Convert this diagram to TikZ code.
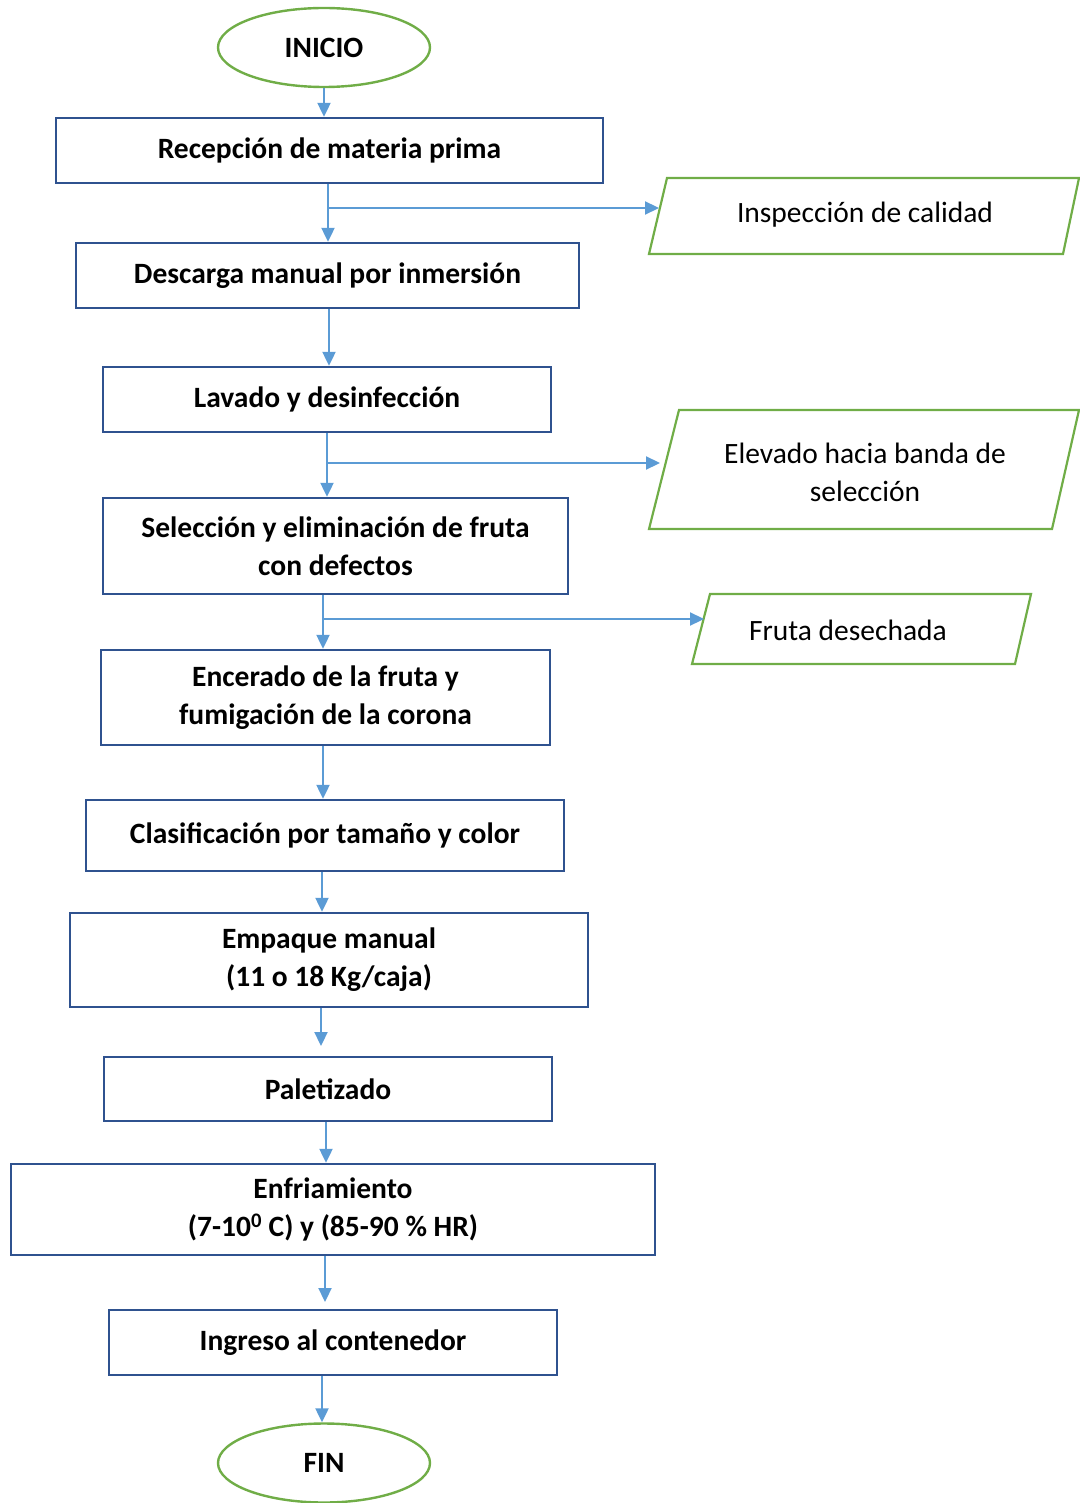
\documentclass[tikz,border=0pt]{standalone}
\usepackage{fontspec}
\setmainfont{Carlito}
\usetikzlibrary{arrows.meta,shapes.geometric}
\definecolor{boxblue}{RGB}{47,82,143}
\definecolor{arrblue}{RGB}{91,155,213}
\definecolor{green}{RGB}{112,173,71}
\tikzset{
  box/.style={draw=boxblue, line width=2.4pt, rectangle, align=center, inner sep=0pt,
    font=\fontsize{29.5}{38}\selectfont\bfseries},
  term/.style={draw=green, line width=2.4pt, ellipse, inner sep=0pt,
    minimum width=212pt, minimum height=79pt, font=\fontsize{29.5}{38}\selectfont\bfseries},
  para/.style={draw=green, line width=2.2pt},
  ptext/.style={align=center, font=\fontsize{29.5}{38}\selectfont},
  arr/.style={draw=arrblue, line width=2.2pt, -{Triangle[length=14pt,width=13pt]}},
}
\begin{document}
\begin{tikzpicture}[x=1pt,y=-1pt]
\useasboundingbox (0,0) rectangle (1079,1503);
% terminals
\node[term] (ini) at (324,47.5) {INICIO};
\node[term] (fin) at (324,1463) {FIN};
% process boxes
\node[box, minimum width=547pt, minimum height=65pt] (r1) at (329.5,150.5) {Recepción de materia prima};
\node[box, minimum width=503pt, minimum height=65pt] (r2) at (327.5,275.5) {Descarga manual por inmersión};
\node[box, minimum width=448pt, minimum height=65pt] (r3) at (327,399.5) {Lavado y desinfección};
\node[box, minimum width=465pt, minimum height=96pt] (r4) at (335.5,546) {Selección y eliminación de fruta\\con defectos};
\node[box, minimum width=449pt, minimum height=95pt] (r5) at (325.5,697.5) {Encerado de la fruta y\\fumigación de la corona};
\node[box, minimum width=478pt, minimum height=71pt] (r6) at (325,835.5) {Clasificación por tamaño y color};
\node[box, minimum width=518pt, minimum height=94pt] (r7) at (329,960) {Empaque manual\\(11 o 18 Kg/caja)};
\node[box, minimum width=448pt, minimum height=64pt] (r8) at (328,1089) {Paletizado};
\node[box, minimum width=644pt, minimum height=91pt] (r9) at (333,1209.5) {Enfriamiento\\(7-10\textsuperscript{0} C) y (85-90 \% HR)};
\node[box, minimum width=448pt, minimum height=65pt] (r10) at (333,1342.5) {Ingreso al contenedor};
% side parallelograms
\draw[para] (667,178) -- (1079,178) -- (1063,254) -- (649,254) -- cycle;
\node[ptext] (p1) at (865,215) {Inspección de calidad};
\draw[para] (679,410) -- (1079,410) -- (1052,529) -- (649,529) -- cycle;
\node[ptext] (p2) at (865,472) {Elevado hacia banda de\\selección};
\draw[para] (710,594) -- (1031,594) -- (1015,664) -- (692,664) -- cycle;
\node[ptext] (p3) at (848,630) {Fruta desechada};
% branch points and side arrow ends
\coordinate (b1) at (328,208);
\coordinate (e1) at (659,208);
\coordinate (b2) at (327,463);
\coordinate (e2) at (660,463);
\coordinate (b3) at (323,619);
\coordinate (e3) at (704,619);
% main flow
\draw[arr] (324,0 |- ini.south) -- (324,0 |- r1.north);
\draw[arr] (328,0 |- r1.south) -- (328,0 |- r2.north);
\draw[arr] (329,0 |- r2.south) -- (329,0 |- r3.north);
\draw[arr] (327,0 |- r3.south) -- (327,0 |- r4.north);
\draw[arr] (323,0 |- r4.south) -- (323,0 |- r5.north);
\draw[arr] (323,0 |- r5.south) -- (323,0 |- r6.north);
\draw[arr] (322,0 |- r6.south) -- (322,0 |- r7.north);
\draw[arr] (321,0 |- r7.south) -- (321,1046);
\draw[arr] (326,0 |- r8.south) -- (326,0 |- r9.north);
\draw[arr] (325,0 |- r9.south) -- (325,1302);
\draw[arr] (322,0 |- r10.south) -- (322,0 |- fin.north);
% side flows
\draw[arr] (b1) -- (e1);
\draw[arr] (b2) -- (e2);
\draw[arr] (b3) -- (e3);
\end{tikzpicture}
\end{document}
